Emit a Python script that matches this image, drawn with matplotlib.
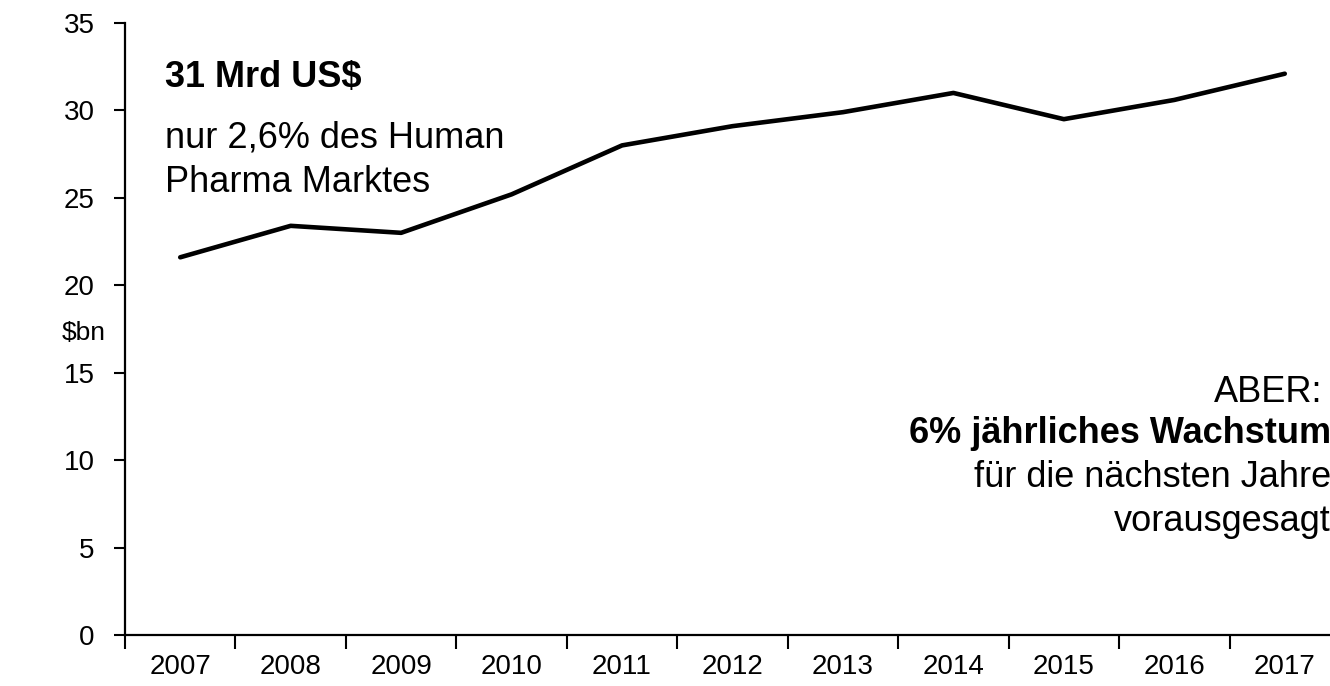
import numpy as np
import matplotlib
matplotlib.use("Agg")
import matplotlib.pyplot as plt

plt.rcParams['font.family'] = ['Liberation Sans', 'DejaVu Sans']

years = ['2007', '2008', '2009', '2010', '2011', '2012',
         '2013', '2014', '2015', '2016', '2017']
market = [21.6, 23.4, 23.0, 25.2, 28.0, 29.1, 29.9, 31.0, 29.5, 30.6, 32.1]
yticks = [0, 5, 10, 15, 20, 25, 30, 35]

W, H = 1330, 686
fig = plt.figure(figsize=(W / 100, H / 100), dpi=100)

# axes run past the right edge of the figure, like the cropped original
left, right, bottom, top = 125, 1340, 635, 23
ax = fig.add_axes([left / W, 1 - bottom / H, (right - left) / W, (bottom - top) / H])

x = np.arange(len(years))
ax.plot(x, market, color='black', lw=3.3, solid_joinstyle='round', solid_capstyle='round')

ax.set_xlim(-0.5, len(years) - 0.5)
ax.set_ylim(0, 35)

ax.set_xticks(x)
ax.set_xticklabels(years, fontsize=20)
# tick marks sit between the years
ax.set_xticks(np.arange(-0.5, len(years), 1), minor=True)
ax.tick_params(axis='x', which='major', length=0, pad=14)
ax.tick_params(axis='x', which='minor', length=10, width=1.5, direction='out')

ax.set_yticks(yticks)
ax.set_yticklabels([str(v) for v in yticks], fontsize=20)
ax.tick_params(axis='y', length=8, width=1.5, pad=14)

for s in ['top', 'right']:
    ax.spines[s].set_visible(False)
for s in ['left', 'bottom']:
    ax.spines[s].set_linewidth(1.6)

def px(xp, yp):
    return xp / W, 1 - yp / H

fig.text(*px(62, 340), '$bn', fontsize=19, ha='left', va='baseline')

# annotation left
fig.text(*px(165, 87), '31 Mrd US$', fontsize=26, fontweight='bold', va='baseline')
fig.text(*px(165, 147), 'nur 2,6% des Human', fontsize=26, va='baseline')
fig.text(*px(165, 192), 'Pharma Marktes', fontsize=26, va='baseline')

# annotation right
fig.text(*px(1322, 402), 'ABER:', fontsize=26, ha='right', va='baseline')
fig.text(*px(1331, 443), '6% jährliches Wachstum', fontsize=26, fontweight='bold', ha='right', va='baseline')
fig.text(*px(1331, 487), 'für die nächsten Jahre', fontsize=26, ha='right', va='baseline')
fig.text(*px(1331, 531), 'vorausgesagt', fontsize=26, ha='right', va='baseline')

fig.savefig('out.png', dpi=100)
